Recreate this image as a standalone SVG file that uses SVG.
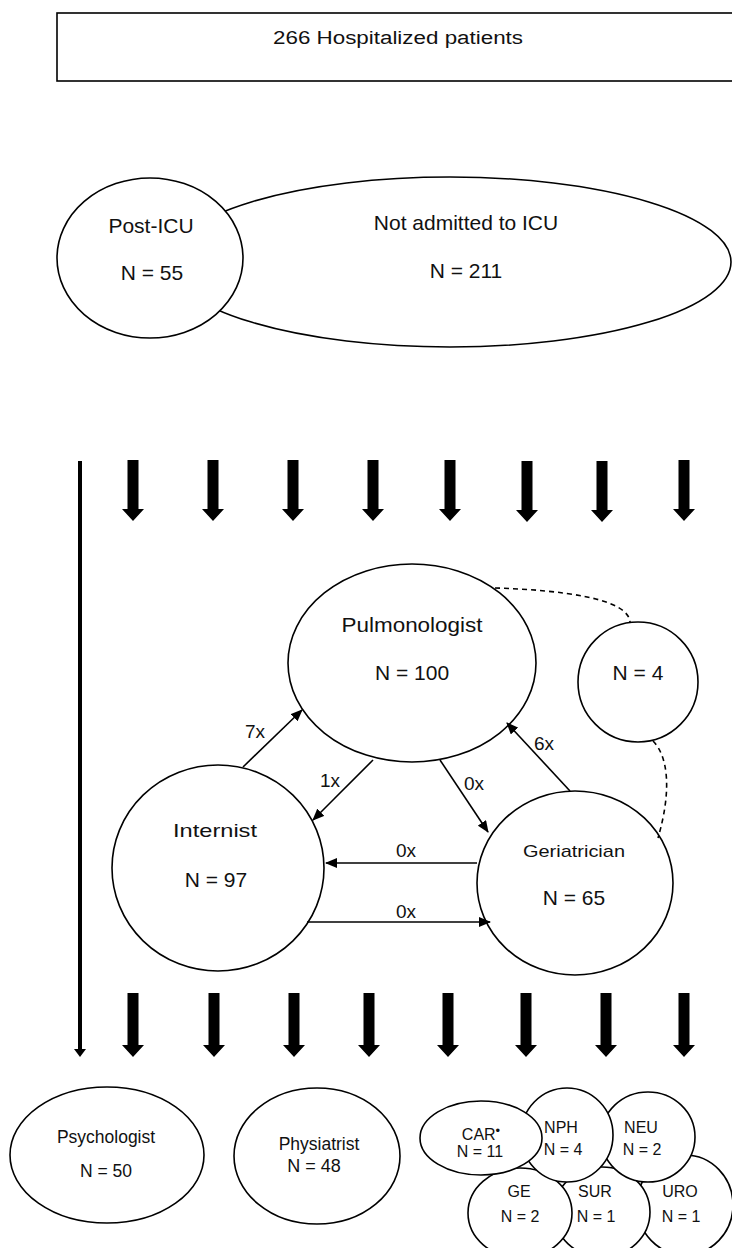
<svg xmlns="http://www.w3.org/2000/svg" width="732" height="1248" viewBox="0 0 732 1248">
<style>
.n{fill:#fff;stroke:#000;stroke-width:1.6}
.t{font-family:"Liberation Sans",Arial,sans-serif;fill:#111;text-anchor:middle}
.c{fill:none;stroke:#000;stroke-width:1.6}
.d{fill:none;stroke:#000;stroke-width:1.6;stroke-dasharray:5 4}
.big{font-size:21px}
.mid{font-size:18px}
.sm{font-size:16px}
</style>
<defs>
<marker id="ah" markerUnits="userSpaceOnUse" markerWidth="12" markerHeight="10" refX="11" refY="5" orient="auto">
<path d="M0,0 L12,5 L0,10 z" fill="#000"/>
</marker>
<path id="ta" d="M-5.5,0 H5.5 V49 H11 L0,61 L-11,49 H-5.5 Z" fill="#000"/>
<path id="ba" d="M-5.5,0 H5.5 V52 H11 L0,64 L-11,52 H-5.5 Z" fill="#000"/>
</defs>
<rect width="732" height="1248" fill="#fff"/>

<g id="hospitalized">
<rect class="n" x="57" y="13" width="700" height="68"/>
<text class="t" x="398" y="44" font-size="18" textLength="250" lengthAdjust="spacingAndGlyphs">266  Hospitalized patients</text>
</g>

<g id="not-icu">
<ellipse class="n" cx="450" cy="262" rx="281" ry="85"/>
<text class="t big" x="466" y="230">Not admitted to ICU</text>
<text class="t big" x="466" y="278">N = 211</text>
</g>
<g id="post-icu">
<ellipse class="n" cx="150" cy="258" rx="93" ry="80"/>
<text class="t big" x="151" y="233">Post-ICU</text>
<text class="t big" x="152" y="280">N = 55</text>
</g>

<g id="flow-arrows">
<line x1="80" y1="461" x2="80" y2="1050" stroke="#000" stroke-width="4"/>
<path d="M74,1049 H86 L80,1057 Z" fill="#000"/>
<use href="#ta" x="133" y="460"/>
<use href="#ta" x="213" y="460"/>
<use href="#ta" x="293" y="460"/>
<use href="#ta" x="373" y="460"/>
<use href="#ta" x="450" y="460"/>
<use href="#ta" x="527" y="461"/>
<use href="#ta" x="602" y="461"/>
<use href="#ta" x="684" y="460"/>
<use href="#ba" x="133" y="993"/>
<use href="#ba" x="214" y="993"/>
<use href="#ba" x="294" y="993"/>
<use href="#ba" x="369" y="993"/>
<use href="#ba" x="448" y="993"/>
<use href="#ba" x="526" y="993"/>
<use href="#ba" x="606" y="993"/>
<use href="#ba" x="684" y="993"/>
</g>

<g id="pulmonologist">
<ellipse class="n" cx="412" cy="663" rx="124" ry="99"/>
<text class="t" x="412" y="632" font-size="21" textLength="141" lengthAdjust="spacingAndGlyphs">Pulmonologist</text>
<text class="t big" x="412" y="680">N = 100</text>
</g>
<g id="n4">
<ellipse class="n" cx="638" cy="682" rx="60" ry="60"/>
<text class="t big" x="638" y="680">N = 4</text>
</g>
<g id="internist">
<ellipse class="n" cx="218" cy="868" rx="106" ry="103"/>
<text class="t" x="215" y="837" font-size="19" textLength="84" lengthAdjust="spacingAndGlyphs">Internist</text>
<text class="t big" x="216" y="887">N = 97</text>
</g>
<g id="geriatrician">
<ellipse class="n" cx="575" cy="883" rx="98" ry="92"/>
<text class="t" x="574" y="857" font-size="17" textLength="102" lengthAdjust="spacingAndGlyphs">Geriatrician</text>
<text class="t big" x="574" y="905">N = 65</text>
</g>

<g id="connectors">
<path class="d" d="M495,588 C560,590 628,598 630,622"/>
<path class="d" d="M653,741 C668,756 672,790 658,838"/>
<line class="c" x1="243" y1="767" x2="302" y2="710" marker-end="url(#ah)"/>
<line class="c" x1="373" y1="760" x2="313" y2="820" marker-end="url(#ah)"/>
<line class="c" x1="440" y1="760" x2="488" y2="832" marker-end="url(#ah)"/>
<line class="c" x1="570" y1="791" x2="507" y2="723" marker-end="url(#ah)"/>
<line class="c" x1="477" y1="863" x2="326" y2="863" marker-end="url(#ah)"/>
<line class="c" x1="307" y1="922" x2="490" y2="922" marker-end="url(#ah)"/>
<text class="t" font-size="19" x="255" y="738">7x</text>
<text class="t" font-size="19" x="330" y="787">1x</text>
<text class="t" font-size="19" x="474" y="790">0x</text>
<text class="t" font-size="19" x="544" y="750">6x</text>
<text class="t" font-size="19" x="406" y="857">0x</text>
<text class="t" font-size="19" x="406" y="918">0x</text>
</g>

<g id="psychologist">
<ellipse class="n" cx="107" cy="1155" rx="97" ry="68"/>
<text class="t" font-size="17.5" x="106" y="1143">Psychologist</text>
<text class="t" font-size="17.5" x="106" y="1177">N = 50</text>
</g>
<g id="physiatrist">
<ellipse class="n" cx="317" cy="1156" rx="83" ry="68"/>
<text class="t" font-size="17.5" x="319" y="1150">Physiatrist</text>
<text class="t" font-size="18" x="314" y="1172">N = 48</text>
</g>

<g id="uro">
<ellipse class="n" cx="685" cy="1205" rx="48" ry="50"/>
<text class="t sm" x="680" y="1197">URO</text>
<text class="t sm" x="681" y="1222">N = 1</text>
</g>
<g id="sur">
<ellipse class="n" cx="602" cy="1212" rx="48" ry="45"/>
<text class="t sm" x="595" y="1197">SUR</text>
<text class="t sm" x="596" y="1222">N = 1</text>
</g>
<g id="ge">
<ellipse class="n" cx="520" cy="1213" rx="52" ry="45"/>
<text class="t sm" x="519" y="1197">GE</text>
<text class="t sm" x="520" y="1222">N = 2</text>
</g>
<g id="neu">
<ellipse class="n" cx="648" cy="1137" rx="47" ry="45"/>
<text class="t sm" x="641" y="1133">NEU</text>
<text class="t sm" x="642" y="1155">N = 2</text>
</g>
<g id="nph">
<ellipse class="n" cx="567" cy="1135" rx="46" ry="47"/>
<text class="t sm" x="561" y="1133">NPH</text>
<text class="t sm" x="563" y="1155">N = 4</text>
</g>
<g id="car">
<ellipse class="n" cx="481" cy="1138" rx="61" ry="37"/>
<text class="t sm" x="481" y="1140">CAR<tspan font-size="13" dy="-5">•</tspan></text>
<text class="t sm" x="480" y="1157">N = 11</text>
</g>
</svg>
